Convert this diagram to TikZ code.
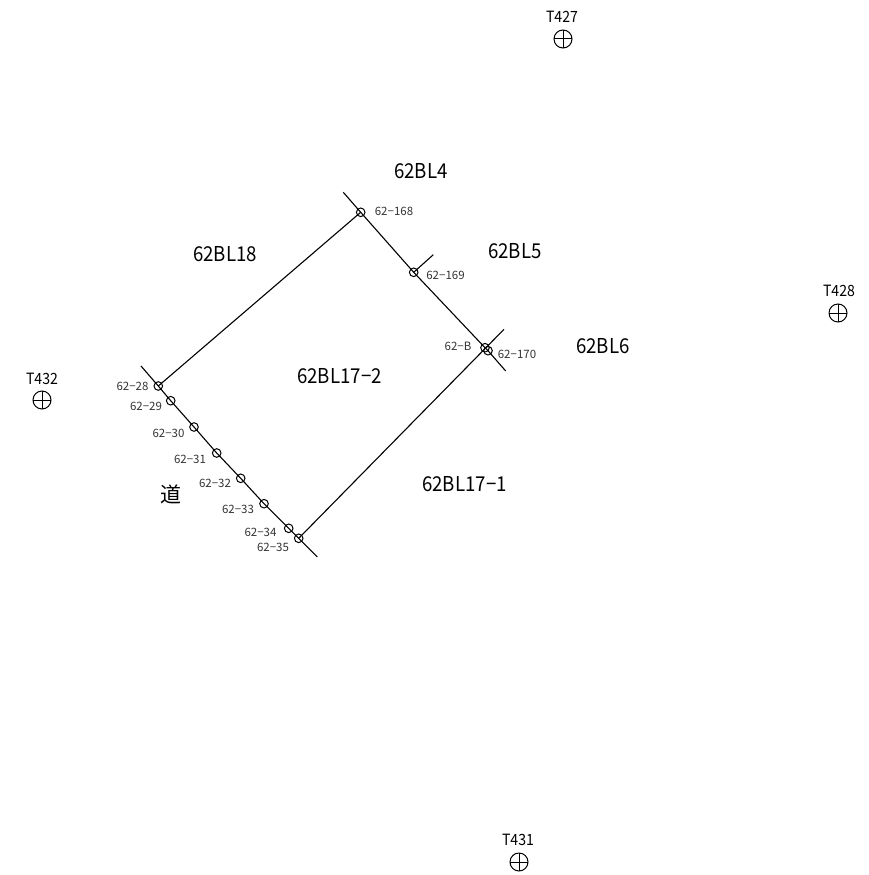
\documentclass[tikz,border=0pt]{standalone}
\usepackage{fontspec}
\setmainfont{Noto Sans CJK JP}
\newfontfamily\narrowgothic[FakeStretch=0.91]{Noto Sans CJK JP}
\tikzset{
  corner/.style={draw,circle,inner sep=0pt,minimum size=8.6pt,line width=1pt},
  station/.style={draw,circle,inner sep=0pt,minimum size=18pt,line width=1pt,
    path picture={\draw[line width=1pt] (path picture bounding box.north) -- (path picture bounding box.south);
      \draw[line width=1pt] (path picture bounding box.west) -- (path picture bounding box.east);}},
  boundary/.style={line width=1.1pt},
  parcel/.style={inner sep=0pt,font=\narrowgothic\fontsize{20.5}{20.5}\selectfont},
  stationname/.style={inner sep=0pt,font=\narrowgothic\fontsize{15.5}{15.5}\selectfont},
  pointname/.style={inner sep=0pt,text=black!80,font=\fontsize{11.5}{11.5}\selectfont},
}
\begin{document}
\begin{tikzpicture}[x=1pt,y=-1pt]
\useasboundingbox (0,0) rectangle (868,875);
% stations
\node[station] (T427) at (563,39) {};
\node[station] (T428) at (838,313) {};
\node[station] (T431) at (519,862) {};
\node[station] (T432) at (42,400) {};
\node[stationname] (T427name) at (562,17) {T427};
\node[stationname] (T428name) at (839,291) {T428};
\node[stationname] (T431name) at (518,840) {T431};
\node[stationname] (T432name) at (42,379) {T432};

% boundary points
\node[corner] (p168) at (360.7,212.3) {};
\node[corner] (p169) at (413.7,272.3) {};
\node[corner] (pB) at (485,347.7) {};
\node[corner] (p170) at (488,350.7) {};
\node[corner] (p28) at (158.3,386) {};
\node[corner] (p29) at (170.7,400.7) {};
\node[corner] (p30) at (194,427) {};
\node[corner] (p31) at (216.7,453) {};
\node[corner] (p32) at (240.7,478.3) {};
\node[corner] (p33) at (264,503.7) {};
\node[corner] (p34) at (288.7,528.3) {};
\node[corner] (p35) at (298.7,538.3) {};

% free ends
\coordinate (roadtop) at (141,366);
\coordinate (roadbot) at (317.3,557);
\coordinate (northtop) at (343.3,192.3);
\coordinate (eastbot) at (505.7,371);
\coordinate (tick169) at (433.3,254.7);
\coordinate (tickB) at (504,329.3);

\draw[boundary] (roadtop) -- (p28.center) -- (p29.center) -- (p30.center) -- (p31.center) -- (p32.center) -- (p33.center) -- (p34.center) -- (p35.center) -- (roadbot);
\draw[boundary] (northtop) -- (p168.center) -- (p169.center) -- (pB.center) -- (p170.center) -- (eastbot);
\draw[boundary] (p28.center) -- (p168.center);
\draw[boundary] (p35.center) -- (tickB);
\draw[boundary] (p169.center) -- (tick169);

% parcels
\node[parcel] (bl4) at (421,171) {62BL4};
\node[parcel] (bl5) at (515,251) {62BL5};
\node[parcel] (bl6) at (603,346) {62BL6};
\node[parcel] (bl18) at (225,254) {62BL18};
\node[parcel] (bl172) at (339.5,376) {62BL17−2};
\node[parcel] (bl171) at (464.5,484) {62BL17−1};
\node[parcel,font=\fontsize{21}{21}\selectfont] (road) at (170.5,494) {道};

% point names
\node[pointname] (n168) at (394,211) {62−168};
\node[pointname] (n169) at (445.5,275) {62−169};
\node[pointname] (nB) at (458,346.5) {62−B};
\node[pointname] (n170) at (517,354) {62−170};
\node[pointname] (n28) at (132.5,386) {62−28};
\node[pointname] (n29) at (146,406.5) {62−29};
\node[pointname] (n30) at (168.5,433) {62−30};
\node[pointname] (n31) at (190,459) {62−31};
\node[pointname] (n32) at (215,483.5) {62−32};
\node[pointname] (n33) at (238,509) {62−33};
\node[pointname] (n34) at (260.5,532) {62−34};
\node[pointname] (n35) at (273,547) {62−35};
\end{tikzpicture}
\end{document}
